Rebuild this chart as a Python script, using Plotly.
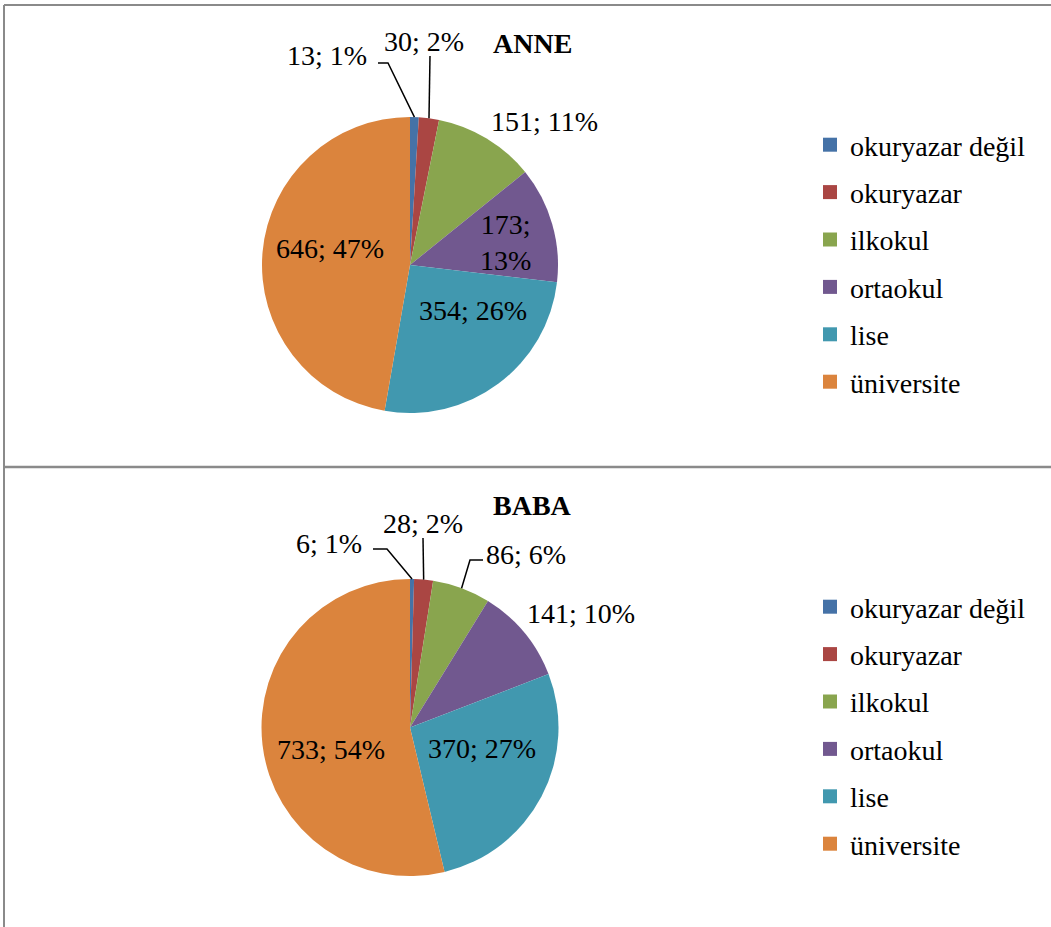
import math
import plotly.graph_objects as go

# --- data -----------------------------------------------------------------
categories = ["okuryazar değil", "okuryazar", "ilkokul", "ortaokul", "lise", "üniversite"]
anne_values = [13, 30, 151, 173, 354, 646]
anne_pct = ["1%", "2%", "11%", "13%", "26%", "47%"]
baba_values = [6, 28, 86, 141, 370, 733]
baba_pct = ["1%", "2%", "6%", "10%", "27%", "54%"]

colors = ["#4572A7", "#AA4643", "#89A54E", "#71588F", "#4198AF", "#DB843D"]

W, H = 1051, 927
FONT = "Liberation Serif, Times New Roman, DejaVu Serif, serif"
FS = 28

# label placement (page pixels): slice index -> (x, y, xanchor, wrapped)
anne_label_pos = {
    0: (369, 55, "right", False), 1: (424, 41, "center", False),
    2: (544, 121, "center", False), 3: (505, 242, "center", True),
    4: (473, 310, "center", False), 5: (330, 248, "center", False),
}
baba_label_pos = {
    0: (364, 543, "right", False), 1: (423, 523, "center", False),
    2: (484, 554, "left", False), 3: (581, 613, "center", False),
    4: (482, 748, "center", False), 5: (331, 749, "center", False),
}


def px(x, y):
    return x / W, 1 - y / H


def pie_trace(values, cx, cy, r, name):
    x0, y1 = px(cx - r, cy - r)
    x1, y0 = px(cx + r, cy + r)
    return go.Pie(
        labels=categories, values=values, name=name, textinfo="none",
        marker=dict(colors=colors, line=dict(width=0)),
        sort=False, direction="clockwise", rotation=0,
        domain=dict(x=[x0, x1], y=[y0, y1]),
        showlegend=False, automargin=False, hoverinfo="label+value+percent",
    )


def leader(values, idx, cx, cy, r, pts):
    # line from slice edge (mid-angle) through elbow points to the label
    total = sum(values)
    start = sum(values[:idx]) / total
    mid = (start + values[idx] / total / 2) * 2 * math.pi
    ex, ey = cx + r * math.sin(mid), cy - r * math.cos(mid)
    path = f"M{ex},{ey}" + "".join(f" L{x},{y}" for x, y in pts)
    return dict(type="path", path=path, xref="x", yref="y",
                line=dict(color="black", width=1.5))


fig = go.Figure()

c1 = (410, 265, 148)
c2 = (410, 727.5, 148.5)

fig.add_trace(pie_trace(anne_values, *c1, "ANNE"))
fig.add_trace(pie_trace(baba_values, *c2, "BABA"))

# legend entries (one group per category so the row spacing can be set)
for leg in ("legend", "legend2"):
    for cat, col in zip(categories, colors):
        fig.add_trace(go.Scatter(
            x=[None], y=[None], mode="markers", name=cat,
            marker=dict(symbol="square", size=14, color=col),
            legend=leg, legendgroup=f"{leg}-{cat}", showlegend=True,
        ))

shapes = [
    # table borders
    dict(type="line", x0=4, x1=W, y0=5, y1=5, line=dict(color="#8a8a8a", width=2)),
    dict(type="line", x0=4, x1=4, y0=5, y1=H, line=dict(color="#8a8a8a", width=2)),
    dict(type="line", x0=4, x1=W, y0=467, y1=467, line=dict(color="#8a8a8a", width=2.5)),
]
for s in shapes:
    s.update(xref="x", yref="y")

shapes += [
    leader(anne_values, 0, *c1, [(388, 63), (378, 63)]),
    leader(anne_values, 1, *c1, [(430, 56)]),
    leader(baba_values, 0, *c2, [(387, 549), (373, 549)]),
    leader(baba_values, 1, *c2, [(423, 538)]),
    leader(baba_values, 2, *c2, [(470, 560), (483, 560)]),
]

annotations = []


def label(text, x, y, anchor="center", bold=False):
    annotations.append(dict(
        text=f"<b>{text}</b>" if bold else text, x=x, y=y, xref="x", yref="y",
        xanchor=anchor, yanchor="middle", showarrow=False,
        font=dict(family=FONT, size=FS, color="black"),
    ))


label("ANNE", 532, 43, bold=True)
label("BABA", 532, 505, bold=True)

for values, pct, pos in ((anne_values, anne_pct, anne_label_pos),
                         (baba_values, baba_pct, baba_label_pos)):
    for i, (v, p) in enumerate(zip(values, pct)):
        x, y, anchor, wrapped = pos[i]
        sep = ";<br>" if wrapped else "; "
        label(f"{v}{sep}{p}", x, y, anchor)

legend_style = dict(
    font=dict(family=FONT, size=FS, color="black"),
    bgcolor="rgba(0,0,0,0)", xanchor="left", yanchor="top",
    tracegroupgap=8, itemclick=False, itemdoubleclick=False,
)
lx1, ly1 = px(810, 120)
lx2, ly2 = px(810, 582)

fig.update_layout(
    width=W, height=H, autosize=False,
    margin=dict(l=0, r=0, t=0, b=0),
    paper_bgcolor="white", plot_bgcolor="white",
    xaxis=dict(range=[0, W], visible=False, fixedrange=True),
    yaxis=dict(range=[H, 0], visible=False, fixedrange=True),
    legend=dict(x=lx1, y=ly1, **legend_style),
    legend2=dict(x=lx2, y=ly2, **legend_style),
    shapes=shapes,
    annotations=annotations,
)

# drop the default 8px page margin so the figure fills the window
fig.write_html(
    "out.html",
    config={"responsive": False, "displayModeBar": False},
    post_script="document.body.style.margin = '0';",
)
